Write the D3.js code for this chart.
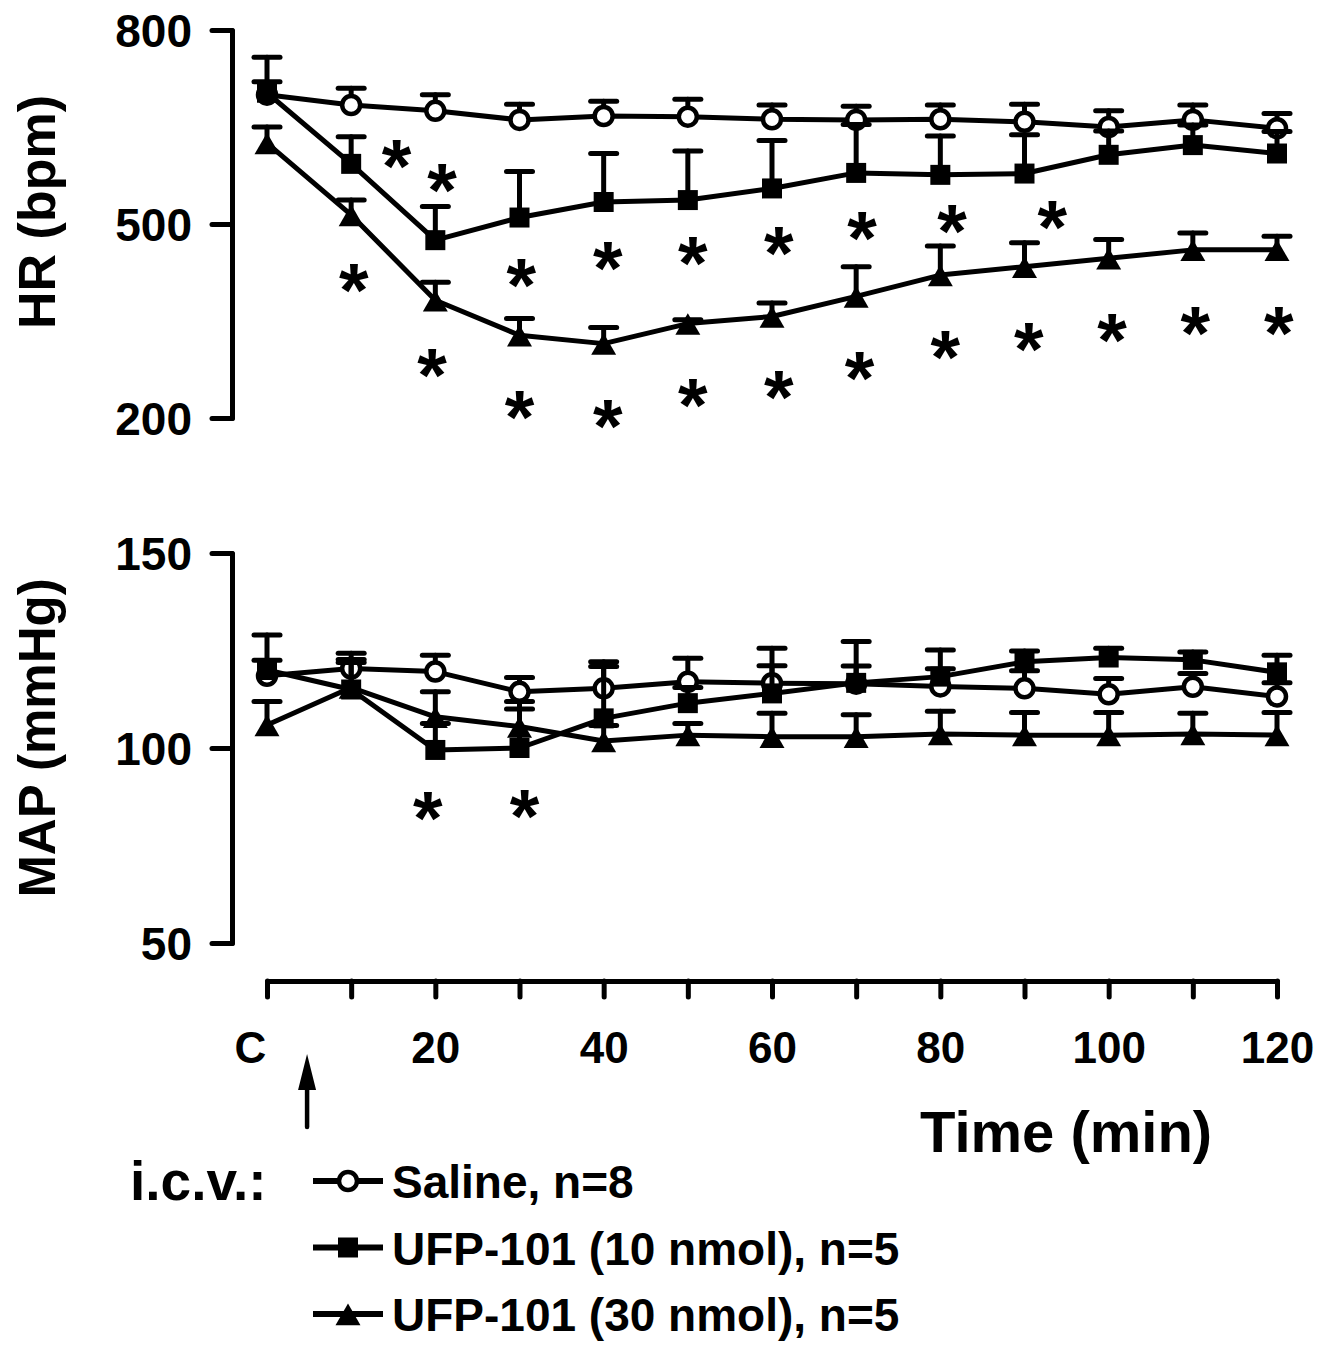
<!DOCTYPE html>
<html>
<head>
<meta charset="utf-8">
<script src="https://cdn.jsdelivr.net/npm/d3@7"></script>
<style>
    html, body { margin: 0; padding: 0; background: #fff; }
    svg { display: block; }
    text { font-family: "Liberation Sans", Arial, sans-serif; font-weight: bold; fill: #000; }
</style>
</head>
<body>
<div id="chart"></div>
<script>
'use strict';

// Time points (min), 0 = control "C"
const times = [0, 10, 20, 30, 40, 50, 60, 70, 80, 90, 100, 110, 120];
const xTickLabels = ['C', '', '20', '', '40', '', '60', '', '80', '', '100', '', '120'];

// Heart rate (bpm), mean and SEM
const hrSaline = [700, 684, 675, 661, 667, 666, 662, 661, 662, 658, 650, 661, 648];
const hrSalineSem = [20, 26, 25, 24, 23, 27, 22, 21, 22, 27, 25, 23, 23];
const hrUfp10 = [703, 593, 475, 510, 534, 537, 555, 579, 576, 578, 607, 622, 609];
const hrUfp10Sem = [55, 42, 52, 71, 75, 76, 74, 75, 60, 60, 37, 31, 34];
const hrUfp30 = [625, 514, 382, 328, 315, 346, 357, 388, 421, 434, 447, 460, 460];
const hrUfp30Sem = [25, 23, 28, 26, 25, 6, 21, 46, 45, 37, 29, 26, 21];

// Mean arterial pressure (mmHg), mean and SEM
const mapSaline = [118.5, 120.4, 119.6, 114.4, 115.3, 117, 116.6, 116.5, 115.8, 115.3, 113.8, 115.7, 113.2];
const mapSalineSem = [4, 3.9, 4.2, 3.7, 5.6, 6, 4.5, 4.5, 4.5, 4.5, 4, 3.4, 3.5];
const mapUfp10 = [120, 115, 99.5, 100, 107.6, 111.5, 114, 116.7, 118.3, 122.1, 123.2, 122.6, 119.4];
const mapUfp10Sem = [9, 7.7, 6.8, 10, 14.5, 4, 11.6, 10.6, 6.8, 2.8, 2.4, 2, 4.4];
const mapUfp30 = [105.9, 115.5, 108, 105.5, 101.8, 103.3, 102.9, 102.9, 103.6, 103.3, 103.3, 103.6, 103.3];
const mapUfp30Sem = [6, 6.4, 6.4, 6.4, 4, 3, 6, 5.6, 5.8, 5.8, 5.8, 5.3, 5.8];

// Significance asterisks: [time, value]
const hrStars = [
    [15.4, 617], [20.8, 581], [10.3, 426], [30.2, 434], [40.5, 460],
    [50.6, 467], [60.8, 483], [70.7, 506], [81.4, 517], [93.3, 524],
    [19.6, 295], [30.0, 230], [40.5, 215], [50.6, 248], [60.8, 261],
    [70.4, 290], [80.6, 323], [90.5, 334], [100.4, 349], [110.3, 359], [120.2, 359]
];
const mapStars = [[19.1, 86.7], [30.6, 87.1]];

const hrTicks = [200, 500, 800];
const mapTicks = [50, 100, 150];

const legendLabels = ['Saline, n=8', 'UFP-101 (10 nmol), n=5', 'UFP-101 (30 nmol), n=5'];
const markerTypes = ['circle', 'square', 'triangle'];

const width = 1322;
const height = 1345;
const lineWidth = 5;
const capHalf = 13;
const starSize = 76;

const svg = d3.select('#chart')
    .append('svg')
    .attr('width', width)
    .attr('height', height);

const x = d3.scaleLinear().domain([0, 120]).range([267, 1277]);
const yHR = d3.scaleLinear().domain([200, 800]).range([418, 30]);
const yMAP = d3.scaleLinear().domain([50, 150]).range([943, 553]);

/*** Draws one marker (circle / square / triangle) at px, py ***/
function drawMarker(g, type, px, py) {
    if (type === 'circle') {
        g.append('circle')
            .attr('cx', px).attr('cy', py).attr('r', 9)
            .attr('fill', '#fff').attr('stroke', '#000').attr('stroke-width', 4.5);
    } else if (type === 'square') {
        g.append('path')
            .attr('d', d3.symbol(d3.symbolSquare, 400)())
            .attr('transform', `translate(${px},${py})`)
            .attr('fill', '#000');
    } else {
        g.append('path')
            .attr('d', d3.symbol(d3.symbolTriangle, 270)())
            .attr('transform', `translate(${px},${py + 4})`)
            .attr('fill', '#000');
    }
}

/*** Draws a series: line, upward error bars, then markers ***/
function drawSeries(g, y, values, sems, type) {
    const pts = times.map((t, i) => ({ t: t, v: values[i], s: sems[i] }));

    g.append('path')
        .datum(pts)
        .attr('fill', 'none')
        .attr('stroke', '#000')
        .attr('stroke-width', lineWidth)
        .attr('stroke-linejoin', 'round')
        .attr('d', d3.line().x(d => x(d.t)).y(d => y(d.v)));

    const bars = g.append('g')
        .attr('stroke', '#000')
        .attr('stroke-width', lineWidth)
        .attr('stroke-linecap', 'round');
    pts.forEach(d => {
        bars.append('line')
            .attr('x1', x(d.t)).attr('x2', x(d.t))
            .attr('y1', y(d.v)).attr('y2', y(d.v + d.s));
        bars.append('line')
            .attr('x1', x(d.t) - capHalf).attr('x2', x(d.t) + capHalf)
            .attr('y1', y(d.v + d.s)).attr('y2', y(d.v + d.s));
    });

    pts.forEach(d => drawMarker(g, type, x(d.t), y(d.v)));
}

/*** Draws a left axis with only the listed ticks ***/
function drawYAxis(y, ticks) {
    const axis = svg.append('g')
        .attr('transform', 'translate(232,0)')
        .call(d3.axisLeft(y).tickValues(ticks).tickSize(20).tickSizeOuter(0).tickPadding(20));
    axis.selectAll('path, line')
        .attr('stroke', '#000')
        .attr('stroke-width', lineWidth)
        .attr('stroke-linecap', 'round');
    axis.selectAll('text')
        .attr('font-size', 46)
        .attr('dy', '0.36em');
    axis.attr('font-family', null).attr('font-size', null);
}

function drawStars(y, stars) {
    svg.append('g')
        .selectAll('text')
        .data(stars)
        .enter()
        .append('text')
        .attr('x', d => x(d[0]))
        .attr('y', d => y(d[1]) + starSize * 0.58)
        .attr('text-anchor', 'middle')
        .attr('font-size', starSize)
        .text('*');
}

// Y axes
drawYAxis(yHR, hrTicks);
drawYAxis(yMAP, mapTicks);

// Axis titles
svg.append('text')
    .attr('transform', 'translate(55,212) rotate(-90)')
    .attr('text-anchor', 'middle')
    .attr('font-size', 52)
    .text('HR (bpm)');
svg.append('text')
    .attr('transform', 'translate(55,738) rotate(-90)')
    .attr('text-anchor', 'middle')
    .attr('font-size', 51)
    .text('MAP (mmHg)');

// X axis (bottom)
const xAxis = svg.append('g')
    .attr('transform', 'translate(0,981)')
    .call(d3.axisBottom(x).tickValues(times).tickSize(16).tickSizeOuter(0)
        .tickFormat((d, i) => xTickLabels[i]));
xAxis.selectAll('path, line')
    .attr('stroke', '#000')
    .attr('stroke-width', lineWidth)
    .attr('stroke-linecap', 'round');
xAxis.selectAll('text')
    .attr('font-size', 44)
    .attr('y', 82)
    .attr('dy', 0)
    .attr('dx', d => d === 0 ? -17 : 0);
xAxis.attr('font-family', null).attr('font-size', null);

svg.append('text')
    .attr('x', 920)
    .attr('y', 1152)
    .attr('font-size', 58)
    .text('Time (min)');

// Injection arrow at ~5 min
const arrowX = x(5) - 2;
svg.append('line')
    .attr('x1', arrowX).attr('x2', arrowX)
    .attr('y1', 1127).attr('y2', 1080)
    .attr('stroke', '#000').attr('stroke-width', 4.5).attr('stroke-linecap', 'round');
svg.append('path')
    .attr('d', `M${arrowX},1054 L${arrowX - 9},1090 L${arrowX + 9},1090 Z`)
    .attr('fill', '#000');

// Series
const hrGroup = svg.append('g');
drawSeries(hrGroup, yHR, hrSaline, hrSalineSem, 'circle');
drawSeries(hrGroup, yHR, hrUfp10, hrUfp10Sem, 'square');
drawSeries(hrGroup, yHR, hrUfp30, hrUfp30Sem, 'triangle');

const mapGroup = svg.append('g');
drawSeries(mapGroup, yMAP, mapSaline, mapSalineSem, 'circle');
drawSeries(mapGroup, yMAP, mapUfp10, mapUfp10Sem, 'square');
drawSeries(mapGroup, yMAP, mapUfp30, mapUfp30Sem, 'triangle');

drawStars(yHR, hrStars);
drawStars(yMAP, mapStars);

// Legend
svg.append('text')
    .attr('x', 130)
    .attr('y', 1200)
    .attr('font-size', 55)
    .text('i.c.v.:');

const legend = svg.append('g');
legendLabels.forEach((label, i) => {
    const ly = 1181 + i * 66.5;
    legend.append('line')
        .attr('x1', 313).attr('x2', 383)
        .attr('y1', ly).attr('y2', ly)
        .attr('stroke', '#000').attr('stroke-width', lineWidth + 1);
    drawMarker(legend, markerTypes[i], 348, ly);
    legend.append('text')
        .attr('x', 392)
        .attr('y', ly + 17)
        .attr('font-size', 46)
        .text(label);
});
</script>
</body>
</html>
